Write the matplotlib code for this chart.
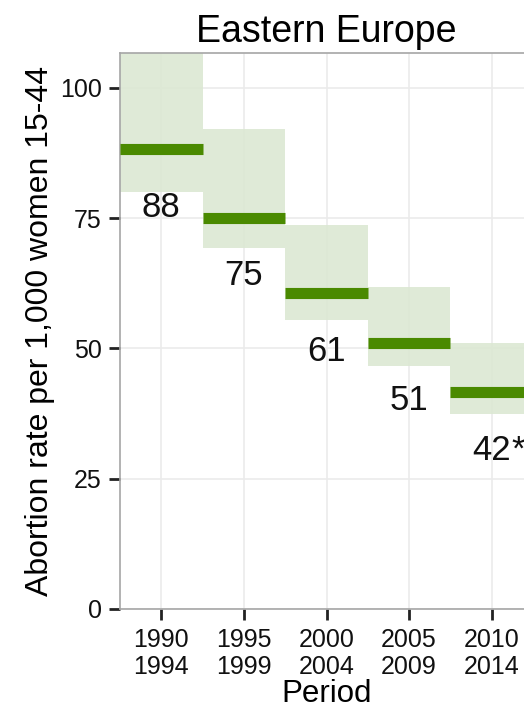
import matplotlib.pyplot as plt
from matplotlib.patches import Rectangle

plt.rcParams["font.family"] = ["Liberation Sans", "DejaVu Sans"]

periods = ["1990\n1994", "1995\n1999", "2000\n2004", "2005\n2009", "2010\n2014"]
rates = [88.2, 75.1, 60.6, 51.1, 41.6]
lower = [80.1, 69.3, 55.5, 46.6, 37.4]
upper = [110.0, 92.2, 73.7, 61.8, 51.1]
labels = ["88", "75", "61", "51", "42"]
suffix = ["", "", "", "", "*"]

line_color = "#4a8a00"
fill_color = "#dce8d3"

fig = plt.figure(figsize=(5.24, 7.10), dpi=100)
ax = fig.add_axes([120 / 524, 101 / 710, 413 / 524, 556 / 710])

xs = range(1, len(periods) + 1)

# uncertainty boxes
for x, lo, hi in zip(xs, lower, upper):
    ax.add_patch(Rectangle((x - 0.5, lo), 1.0, hi - lo, facecolor=fill_color,
                           edgecolor="none", zorder=1, alpha=0.9))

# point estimates
for x, r in zip(xs, rates):
    ax.plot([x - 0.5, x + 0.5], [r, r], color=line_color, linewidth=8,
            solid_capstyle="butt", zorder=3)

# value labels under each box
for x, r, lab, suf in zip(xs, rates, labels, suffix):
    t = ax.text(x, r - 13, lab, ha="center", va="baseline", fontsize=25,
                color="#111111", zorder=4)
    if suf:
        ax.annotate(suf, xy=(1, 1), xycoords=t, va="top", ha="left",
                    fontsize=25, color="#111111")

ax.set_xlim(0.5, 5.5)
ax.set_ylim(0, 106.7)
ax.set_xticks(list(xs))
ax.set_xticklabels(periods, linespacing=1.15)
ax.set_yticks([0, 25, 50, 75, 100])

ax.grid(True, color="#ebebeb", linewidth=1.2, zorder=0)
ax.set_axisbelow(True)

for side in ["top", "left", "bottom", "right"]:
    ax.spines[side].set_color("#a6a6a6")
    ax.spines[side].set_linewidth(1.2)

ax.tick_params(axis="both", length=8, width=2, color="#222222",
               labelsize=18, labelcolor="#111111")
ax.tick_params(axis="x", pad=6)
ax.tick_params(axis="y", pad=5)

ax.set_title("Eastern Europe", fontsize=27, pad=8)
ax.set_xlabel("Period", fontsize=22.5, labelpad=0)
ax.set_ylabel("Abortion rate per 1,000 women 15-44", fontsize=23, labelpad=4)

fig.savefig("out.png", dpi=100)
